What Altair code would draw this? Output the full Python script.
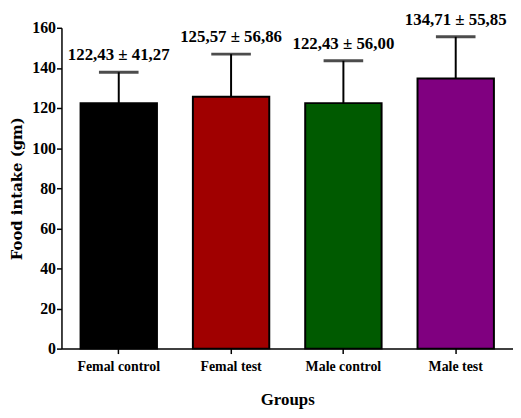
import altair as alt
import pandas as pd

groups = ["Femal control", "Femal test", "Male control", "Male test"]
means = [122.43, 125.57, 122.43, 134.71]
errs = [15.4, 21.3, 21.1, 20.8]
labels = ["122,43 ± 41,27", "125,57 ± 56,86", "122,43 ± 56,00", "134,71 ± 55,85"]
colors = ["#000000", "#a00000", "#005a00", "#800080"]

df = pd.DataFrame({"group": groups, "mean": means, "err": errs, "label": labels})
df["top"] = df["mean"] + df["err"]

FONT = "Liberation Serif"

x = alt.X("group:N", sort=groups, title="Groups",
          scale=alt.Scale(paddingInner=0.32, paddingOuter=0.17),
          axis=alt.Axis(labelAngle=0, labelFont=FONT, labelFontSize=14, labelFontWeight="bold",
                        labelColor="black", titleFont=FONT, titleFontSize=17, titleFontWeight="bold",
                        titleColor="black", domainColor="black", domainWidth=1.5, tickColor="black",
                        tickSize=5, tickWidth=1.5, labelPadding=6, titlePadding=18))

y_axis = alt.Axis(values=list(range(0, 161, 20)), grid=False, labelFont=FONT, labelFontSize=16,
                  labelFontWeight="bold", labelColor="black", titleFont="DejaVu Serif", titleFontSize=15,
                  titleFontWeight="bold", titleColor="black", domainColor="black", domainWidth=1.5,
                  tickColor="black", tickSize=5, tickWidth=1.5, labelPadding=1,
                  titleX=-45, titleY=162, titleAngle=-90, titleAlign="center", titleBaseline="middle")

base = alt.Chart(df)

bars = base.mark_bar(stroke="black", strokeWidth=2).encode(
    x=x,
    y=alt.Y("mean:Q", title="Food intake (gm)", scale=alt.Scale(domain=[0, 160]), axis=y_axis),
    color=alt.Color("group:N", sort=groups, scale=alt.Scale(domain=groups, range=colors), legend=None),
)

rule = base.mark_rule(color="black", strokeWidth=2).encode(
    x=alt.X("group:N", sort=groups), y="mean:Q", y2="top:Q")

cap = base.mark_tick(color="black", thickness=3, size=40).encode(
    x=alt.X("group:N", sort=groups), y="top:Q")

text = base.mark_text(font=FONT, fontSize=17, fontWeight="bold", color="black",
                      baseline="bottom", dy=-8, clip=False).encode(
    x=alt.X("group:N", sort=groups), y="top:Q", text="label:N")

chart = alt.layer(bars, rule, cap, text).properties(
    width=456, height=324,
    autosize=alt.AutoSizeParams(type="none"),
    padding={"left": 54, "top": 18, "right": 0, "bottom": 60},
).configure_view(stroke=None)

chart.save("out.html", embed_options={"renderer": "svg", "actions": False})
